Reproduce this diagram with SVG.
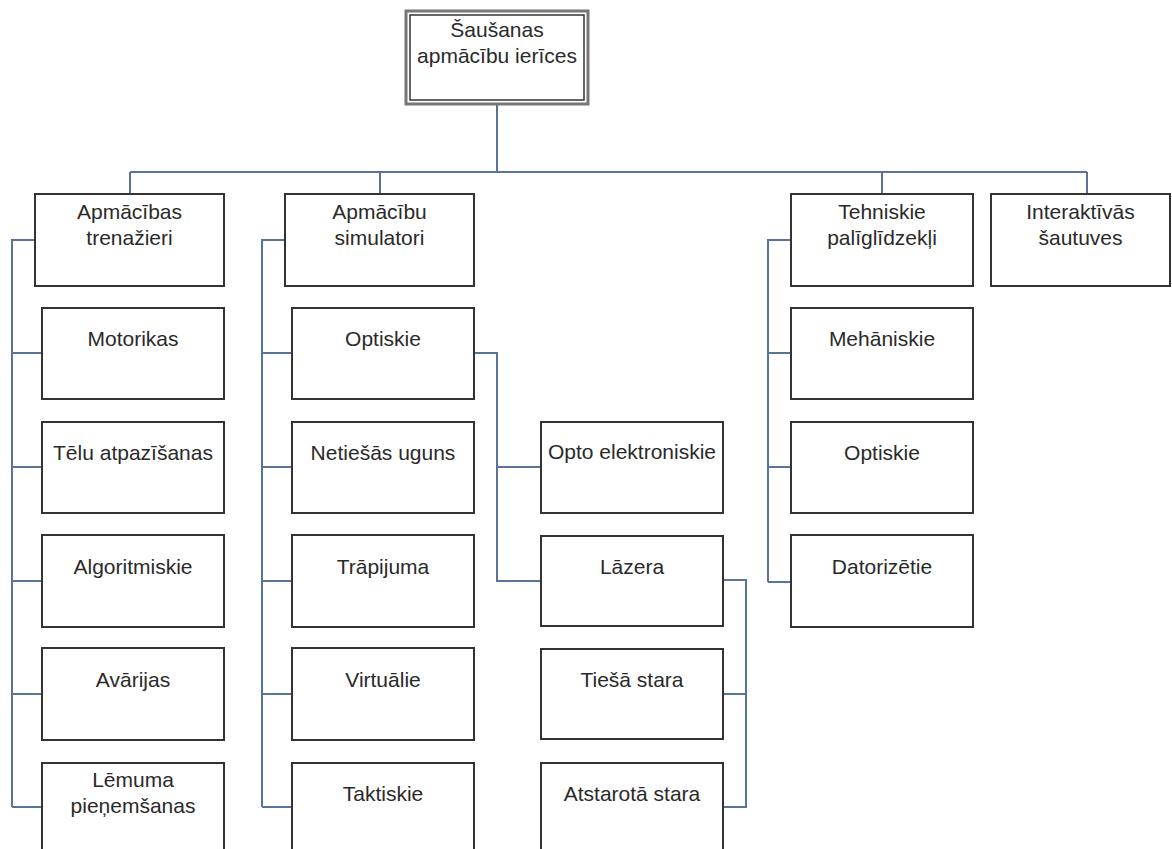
<svg xmlns="http://www.w3.org/2000/svg" width="1172" height="849" viewBox="0 0 1172 849">
<style>
.box{fill:#fff;stroke:#333;stroke-width:2}
.t{font-family:"Liberation Sans",Arial,sans-serif;font-size:21px;fill:#2a2a2a;text-anchor:middle}
.c{fill:none;stroke:#5a7398;stroke-width:2}
</style>
<rect width="1172" height="849" fill="#fff"/>
<g id="connectors">
<path class="c" d="M497 104V172M130 172H1087M130 172V194M380 172V194M882 172V194M1087 172V194"/>
<path class="c" d="M35 240H12V807M12 353H42M12 467H42M12 581H42M12 694H42M12 807H42"/>
<path class="c" d="M285 240H262V807M262 353H292M262 467H292M262 581H292M262 694H292M262 807H292"/>
<path class="c" d="M474 353H497V581H541M497 467H541"/>
<path class="c" d="M723 580H746V807H723M746 694H723"/>
<path class="c" d="M791 240H768V582M768 353H791M768 467H791M768 582H791"/>
</g>
<g id="root">
<rect x="406" y="11" width="182" height="93" fill="#fff" stroke="#777" stroke-width="3"/>
<rect x="410" y="15" width="174" height="85" fill="none" stroke="#333" stroke-width="1.5"/>
<text class="t" x="497" y="37">Šaušanas</text>
<text class="t" x="497" y="63">apmācību ierīces</text>
</g>
<g id="n-trenazieri"><rect class="box" x="35" y="194" width="189" height="92"/><text class="t" x="129.5" y="219">Apmācības</text><text class="t" x="129.5" y="245">trenažieri</text></g>
<g id="n-simulatori"><rect class="box" x="285" y="194" width="189" height="92"/><text class="t" x="379.5" y="219">Apmācību</text><text class="t" x="379.5" y="245">simulatori</text></g>
<g id="n-tehniskie"><rect class="box" x="791" y="194" width="182" height="92"/><text class="t" x="882" y="219">Tehniskie</text><text class="t" x="882" y="245">palīglīdzekļi</text></g>
<g id="n-interaktivas"><rect class="box" x="991" y="194" width="179" height="92"/><text class="t" x="1080.5" y="219">Interaktīvās</text><text class="t" x="1080.5" y="245">šautuves</text></g>
<g id="n-motorikas"><rect class="box" x="42" y="308" width="182" height="91"/><text class="t" x="133" y="346">Motorikas</text></g>
<g id="n-telu"><rect class="box" x="42" y="422" width="182" height="91"/><text class="t" x="133" y="460">Tēlu atpazīšanas</text></g>
<g id="n-algoritmiskie"><rect class="box" x="42" y="535" width="182" height="92"/><text class="t" x="133" y="574">Algoritmiskie</text></g>
<g id="n-avarijas"><rect class="box" x="42" y="648" width="182" height="92"/><text class="t" x="133" y="687">Avārijas</text></g>
<g id="n-lemuma"><rect class="box" x="42" y="763" width="182" height="92"/><text class="t" x="133" y="787">Lēmuma</text><text class="t" x="133" y="813">pieņemšanas</text></g>
<g id="n-optiskie1"><rect class="box" x="292" y="308" width="182" height="91"/><text class="t" x="383" y="346">Optiskie</text></g>
<g id="n-netiesas"><rect class="box" x="292" y="422" width="182" height="91"/><text class="t" x="383" y="460">Netiešās uguns</text></g>
<g id="n-trapijuma"><rect class="box" x="292" y="535" width="182" height="92"/><text class="t" x="383" y="574">Trāpijuma</text></g>
<g id="n-virtualie"><rect class="box" x="292" y="648" width="182" height="92"/><text class="t" x="383" y="687">Virtuālie</text></g>
<g id="n-taktiskie"><rect class="box" x="292" y="763" width="182" height="92"/><text class="t" x="383" y="801">Taktiskie</text></g>
<g id="n-opto"><rect class="box" x="541" y="422" width="182" height="91"/><text class="t" x="632" y="459">Opto elektroniskie</text></g>
<g id="n-lazera"><rect class="box" x="541" y="536" width="182" height="90"/><text class="t" x="632" y="574">Lāzera</text></g>
<g id="n-tiesa"><rect class="box" x="541" y="649" width="182" height="90"/><text class="t" x="632" y="687">Tiešā stara</text></g>
<g id="n-atstarota"><rect class="box" x="541" y="763" width="182" height="92"/><text class="t" x="632" y="801">Atstarotā stara</text></g>
<g id="n-mehaniskie"><rect class="box" x="791" y="308" width="182" height="91"/><text class="t" x="882" y="346">Mehāniskie</text></g>
<g id="n-optiskie2"><rect class="box" x="791" y="422" width="182" height="91"/><text class="t" x="882" y="460">Optiskie</text></g>
<g id="n-datorizetie"><rect class="box" x="791" y="535" width="182" height="92"/><text class="t" x="882" y="574">Datorizētie</text></g>
</svg>
